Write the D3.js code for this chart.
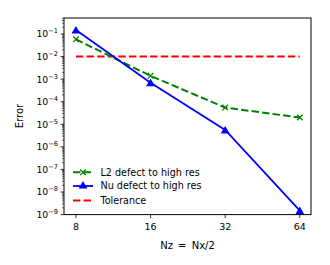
<!DOCTYPE html>
<html lang="en">
<head>
    <script src="https://d3js.org/d3.v7.min.js"></script>
    <style>
        body { margin: 0; background: #fff; }
        text { font-family: "DejaVu Sans", sans-serif; }
    </style>
</head>
<body>
    <svg></svg>
    <script>
        const resolutions = [8, 16, 32, 64]
        const l2Defect = [0.058, 1.4e-3, 5.5e-5, 2.0e-5]
        const nuDefect = [0.15, 7.0e-4, 5.6e-6, 1.5e-9]
        const tolerance = 1e-2
        const yTickExps = [-9, -8, -7, -6, -5, -4, -3, -2, -1]
        const legendLabels = ['L2 defect to high res', 'Nu defect to high res', 'Tolerance']

        const W = 330, H = 265
        const pLeft = 64, pRight = 311, pTop = 18, pBottom = 214.6

        const svg = d3.select('svg')
            .attr('width', W)
            .attr('height', H)

        const x = d3.scaleLog()
            .base(2)
            .domain([8 * Math.pow(2, -0.16), 64 * Math.pow(2, 0.15)])
            .range([pLeft, pRight])
        const y = d3.scaleLog()
            .domain([1e-9, Math.pow(10, -0.29)])
            .range([pBottom, pTop])

        // minor ticks on y
        let minors = []
        for (let e = -9; e <= -1; e++) {
            for (let m = 2; m <= 9; m++) {
                let v = m * Math.pow(10, e)
                if (v <= y.domain()[1]) minors.push(v)
            }
        }
        svg.append('g').selectAll('line').data(minors).enter().append('line')
            .attr('x1', pLeft).attr('x2', pLeft - 2)
            .attr('y1', d => y(d)).attr('y2', d => y(d))
            .attr('stroke', 'black').attr('stroke-width', 0.6)

        // major y ticks
        let yt = svg.append('g').selectAll('g').data(yTickExps).enter().append('g')
            .attr('transform', d => `translate(0,${y(Math.pow(10, d))})`)
        yt.append('line').attr('x1', pLeft).attr('x2', pLeft - 3.5)
            .attr('stroke', 'black').attr('stroke-width', 0.8)
        let lbl = yt.append('text')
            .attr('x', pLeft - 6).attr('y', 3.4)
            .attr('text-anchor', 'end')
            .attr('font-size', 9.3)
        lbl.append('tspan').text('10')
        lbl.append('tspan').attr('dy', -4).attr('font-size', 6.6).text(d => '\u2212' + (-d))

        // x ticks
        let xt = svg.append('g').selectAll('g').data(resolutions).enter().append('g')
            .attr('transform', d => `translate(${x(d)},${pBottom})`)
        xt.append('line').attr('y1', 0).attr('y2', 3.5)
            .attr('stroke', 'black').attr('stroke-width', 0.8)
        xt.append('text').attr('y', 15).attr('text-anchor', 'middle')
            .attr('font-size', 9.5).text(d => d)

        // tolerance line
        svg.append('line')
            .attr('x1', x(8)).attr('x2', x(64))
            .attr('y1', y(tolerance)).attr('y2', y(tolerance))
            .attr('stroke', '#ff0000').attr('stroke-width', 2)
            .attr('stroke-dasharray', '7.4,3.2')

        const line = d3.line().x(d => x(d[0])).y(d => y(d[1]))
        const l2Pts = resolutions.map((r, i) => [r, l2Defect[i]])
        const nuPts = resolutions.map((r, i) => [r, nuDefect[i]])

        svg.append('path').datum(l2Pts).attr('d', line)
            .attr('fill', 'none').attr('stroke', 'green').attr('stroke-width', 2)
            .attr('stroke-dasharray', '7.4,3.2')
        svg.append('path').datum(nuPts).attr('d', line)
            .attr('fill', 'none').attr('stroke', 'blue').attr('stroke-width', 1.8)

        const xMark = d3.symbol().type(d3.symbolX).size(22)
        const triMark = d3.symbol().type(d3.symbolTriangle).size(34)

        svg.append('g').selectAll('path').data(l2Pts).enter().append('path')
            .attr('d', xMark)
            .attr('transform', d => `translate(${x(d[0])},${y(d[1])})`)
            .attr('stroke', 'green').attr('stroke-width', 1.3).attr('fill', 'none')
        svg.append('g').selectAll('path').data(nuPts).enter().append('path')
            .attr('d', triMark)
            .attr('transform', d => `translate(${x(d[0])},${y(d[1]) + 1})`)
            .attr('fill', 'blue')

        // frame
        svg.append('rect')
            .attr('x', pLeft).attr('y', pTop)
            .attr('width', pRight - pLeft).attr('height', pBottom - pTop)
            .attr('fill', 'none').attr('stroke', 'black').attr('stroke-width', 1)

        // axis labels
        svg.append('text').attr('x', 187.5).attr('y', 249)
            .attr('text-anchor', 'middle').attr('font-size', 10)
            .attr('word-spacing', 2).text('Nz = Nx/2')
        svg.append('text')
            .attr('transform', 'translate(23,116) rotate(-90)')
            .attr('text-anchor', 'middle').attr('font-size', 10).text('Error')

        // legend
        const legendY = [172.3, 186, 200.5]
        const lg = svg.append('g').selectAll('g').data(legendLabels).enter().append('g')
            .attr('transform', (d, i) => `translate(73,${legendY[i]})`)
        lg.append('line').attr('x1', 0).attr('x2', 20)
            .attr('stroke', (d, i) => ['green', 'blue', '#ff0000'][i])
            .attr('stroke-width', (d, i) => i == 1 ? 1.8 : 2)
            .attr('stroke-dasharray', (d, i) => i == 1 ? null : '7.4,3.2')
        lg.filter((d, i) => i == 0).append('path').attr('d', xMark)
            .attr('transform', 'translate(10,0)')
            .attr('stroke', 'green').attr('stroke-width', 1.3).attr('fill', 'none')
        lg.filter((d, i) => i == 1).append('path').attr('d', triMark)
            .attr('transform', 'translate(10,0)').attr('fill', 'blue')
        lg.append('text').attr('x', 27.5).attr('y', 3.4)
            .attr('font-size', 9.6).text(d => d)
    </script>
</body>
</html>
